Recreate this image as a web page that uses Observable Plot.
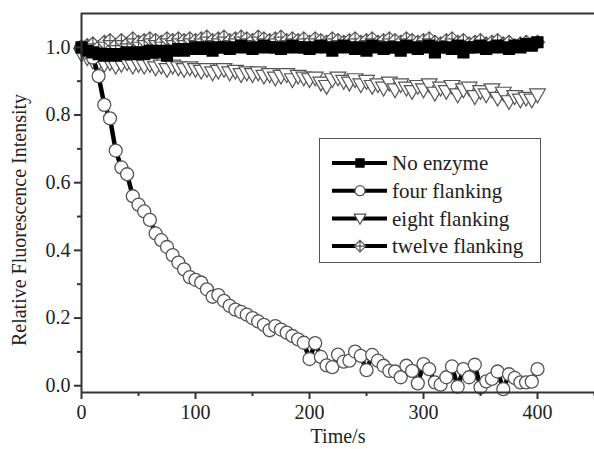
<!DOCTYPE html>
<html>
<head>
<meta charset="utf-8">
<script src="https://cdn.jsdelivr.net/npm/d3@7"></script>
<script src="https://cdn.jsdelivr.net/npm/@observablehq/plot@0.6"></script>
<style>
  html, body { margin: 0; padding: 0; background: #fff; font-family: "Liberation Serif", serif; }
  #wrap { position: relative; width: 594px; height: 449px; font-family: "Liberation Serif", serif; }
  #legend { position: absolute; left: 319px; top: 138px; width: 222px; height: 125px; border: 1px solid #555; background: #fff; box-sizing: border-box; }
</style>
</head>
<body>
<div id="wrap"><div id="legend"></div></div>
<script>
const time = [0,5,10,15,20,25,30,35,40,45,
  50,55,60,65,70,75,80,85,90,95,
  100,105,110,115,120,125,130,135,140,145,
  150,155,160,165,170,175,180,185,190,195,
  200,205,210,215,220,225,230,235,240,245,
  250,255,260,265,270,275,280,285,290,295,
  300,305,310,315,320,325,330,335,340,345,
  350,355,360,365,370,375,380,385,390,395,
  400];

const noEnzyme = [1.000,0.990,0.985,0.980,0.975,0.980,0.975,0.980,0.985,0.980,
  0.985,0.980,0.990,0.985,0.990,0.975,0.990,0.995,0.990,0.995,
  1.000,0.995,1.000,0.990,1.000,1.000,0.995,1.000,1.005,1.000,
  0.995,1.000,1.005,1.000,1.000,0.995,1.000,1.005,1.000,1.000,
  0.995,1.000,1.005,1.000,0.990,1.000,1.005,1.000,0.995,1.000,
  0.990,1.005,1.000,0.995,1.000,1.000,0.990,1.005,1.000,0.995,
  1.000,1.005,0.985,1.000,1.000,0.995,1.005,0.985,1.000,1.000,
  1.005,0.995,1.000,1.005,1.000,0.995,1.005,1.000,1.010,1.005,
  1.015];

const fourFlanking = [1.000,0.985,0.970,0.915,0.830,0.790,0.695,0.645,0.625,0.560,
  0.535,0.515,0.490,0.450,0.430,0.410,0.386,0.364,0.344,0.321,
  0.313,0.305,0.285,0.263,0.268,0.251,0.236,0.225,0.218,0.210,
  0.200,0.190,0.180,0.164,0.176,0.166,0.157,0.147,0.137,0.127,
  0.079,0.126,0.085,0.060,0.055,0.092,0.071,0.074,0.101,0.088,
  0.046,0.091,0.074,0.059,0.044,0.042,0.025,0.059,0.044,0.007,
  0.064,0.049,0.010,0.003,0.025,0.057,-0.003,0.049,0.025,0.062,
  -0.005,0.013,0.020,0.042,-0.010,0.034,0.023,0.010,0.010,0.012,
  0.049];

const eightFlanking = [0.980,0.970,0.960,0.955,0.950,0.955,0.945,0.950,0.955,0.945,
  0.950,0.945,0.950,0.940,0.945,0.935,0.945,0.940,0.935,0.940,
  0.935,0.930,0.935,0.925,0.930,0.935,0.925,0.930,0.920,0.925,
  0.920,0.925,0.915,0.920,0.910,0.915,0.920,0.905,0.915,0.910,
  0.905,0.910,0.895,0.885,0.905,0.910,0.900,0.895,0.905,0.890,
  0.900,0.885,0.890,0.880,0.895,0.875,0.890,0.880,0.870,0.885,
  0.875,0.890,0.865,0.880,0.870,0.885,0.860,0.875,0.880,0.855,
  0.870,0.860,0.875,0.850,0.865,0.840,0.855,0.845,0.850,0.845,
  0.860];

const twelveFlanking = [1.000,1.005,1.010,1.000,1.015,1.020,1.005,1.020,1.010,1.025,
  1.015,1.020,1.025,1.020,1.015,1.025,1.020,1.025,1.020,1.025,
  1.020,1.025,1.030,1.020,1.025,1.030,1.020,1.025,1.030,1.025,
  1.020,1.030,1.025,1.020,1.025,1.030,1.020,1.025,1.020,1.025,
  1.015,1.025,1.020,1.015,1.025,1.020,1.015,1.020,1.025,1.015,
  1.020,1.025,1.015,1.020,1.025,1.020,1.015,1.025,1.020,1.015,
  1.020,1.025,1.015,1.010,1.020,1.025,1.015,1.020,1.010,1.015,
  1.020,1.010,1.015,1.020,1.010,1.015,1.005,1.010,1.015,1.010,
  1.015];

const seriesNames = ["No enzyme", "four flanking", "eight flanking", "twelve flanking"];
const xTicks = [0, 100, 200, 300, 400];
const xMinor = [50, 150, 250, 350, 450];
const yTicks = [0.0, 0.2, 0.4, 0.6, 0.8, 1.0];
const yMinor = [0.1, 0.3, 0.5, 0.7, 0.9];

const rows = (vals) => time.map((t, i) => ({t, v: vals[i]}));
const dNo = rows(noEnzyme), dFour = rows(fourFlanking), dEight = rows(eightFlanking), dTwelve = rows(twelveFlanking);

const serifFam = "Liberation Serif";
const fs = 20;

const triDown = {draw(ctx, size) {
  const r = Math.sqrt(size / Math.PI);
  const h = r * 1.05;
  ctx.moveTo(-r * 1.08, -h * 0.75);
  ctx.lineTo(r * 1.08, -h * 0.75);
  ctx.lineTo(0, h * 1.05);
  ctx.closePath();
}};
const diamondCross = {draw(ctx, size) {
  const r = Math.sqrt(size / Math.PI);
  ctx.moveTo(0, -r); ctx.lineTo(r, 0); ctx.lineTo(0, r); ctx.lineTo(-r, 0); ctx.closePath();
  ctx.moveTo(0, -r); ctx.lineTo(0, r);
  ctx.moveTo(-r, 0); ctx.lineTo(r, 0);
}};

const mStroke = "#555";
const lineW = 4.5;

const plot = Plot.plot({
  width: 594,
  height: 449,
  marginLeft: 81,
  marginRight: 0,
  marginTop: 13,
  marginBottom: 57,
  style: {fontFamily: serifFam, fontSize: fs + "px", color: "#222", background: "#fff"},
  x: {domain: [0, 450]},
  y: {domain: [-0.02, 1.1]},
  marks: [
    Plot.line(dEight, {x: "t", y: "v", stroke: "#000", strokeWidth: lineW}),
    Plot.dot(dEight, {x: "t", y: "v", symbol: triDown, r: 7.3, fill: "#fff", stroke: mStroke, strokeWidth: 1.2}),
    Plot.line(dTwelve, {x: "t", y: "v", stroke: "#000", strokeWidth: lineW}),
    Plot.dot(dTwelve, {x: "t", y: "v", symbol: diamondCross, r: 7, fill: "#fff", stroke: mStroke, strokeWidth: 1.2}),
    Plot.line(dFour, {x: "t", y: "v", stroke: "#000", strokeWidth: lineW}),
    Plot.dot(dFour, {x: "t", y: "v", symbol: "circle", r: 6.5, fill: "#fff", stroke: mStroke, strokeWidth: 1.3}),
    Plot.line(dNo, {x: "t", y: "v", stroke: "#000", strokeWidth: 6.5}),
    Plot.dot(dNo, {x: "t", y: "v", symbol: "square", r: 6, fill: "#000", stroke: "#000"}),
    Plot.ruleX([0], {stroke: "#333", strokeWidth: 2}),
    Plot.ruleY([-0.02], {stroke: "#333", strokeWidth: 2}),
    Plot.ruleY([1.1], {stroke: "#333", strokeWidth: 2}),
    Plot.axisX({ticks: xTicks, tickSize: 7, tickPadding: 5, strokeWidth: 2, stroke: "#333", fontSize: fs, fontFamily: serifFam,
      label: "Time/s", labelAnchor: "center", labelOffset: 50, labelArrow: "none"}),
    Plot.axisX({ticks: xMinor, tickSize: 4, strokeWidth: 2, stroke: "#333", tickFormat: () => "", label: null}),
    Plot.axisY({ticks: yTicks, tickFormat: d3.format(".1f"), tickSize: 7, tickPadding: 4, strokeWidth: 2, stroke: "#333", fontSize: fs, fontFamily: serifFam,
      label: "Relative Fluorescence Intensity", labelAnchor: "center", labelOffset: 70, labelArrow: "none"}),
    Plot.axisY({ticks: yMinor, tickSize: 4, strokeWidth: 2, stroke: "#333", tickFormat: () => "", label: null})
  ]
});
document.getElementById("wrap").insertBefore(plot, document.getElementById("legend"));

// shift the y-axis label slightly downward, as in the reference
d3.select(plot).selectAll('[aria-label="y-axis label"] text').each(function() {
  const tr = this.getAttribute("transform") || "";
  this.setAttribute("transform", "translate(0,17) " + tr);
});

// legend
const lg = d3.select("#legend").append("svg").attr("width", 220).attr("height", 123);
const symFor = {"No enzyme": d3.symbolSquare, "four flanking": d3.symbolCircle, "eight flanking": triDown, "twelve flanking": diamondCross};
const symStyle = {
  "No enzyme": {fill: "#000", stroke: "#000", r: 4.6},
  "four flanking": {fill: "#fff", stroke: mStroke, r: 5},
  "eight flanking": {fill: "#fff", stroke: mStroke, r: 5.4},
  "twelve flanking": {fill: "#fff", stroke: mStroke, r: 5.8}
};
seriesNames.forEach((name, i) => {
  const g = lg.append("g").attr("transform", `translate(0,${24 + i * 27.7})`);
  g.append("line").attr("x1", 12).attr("x2", 67).attr("y1", 0).attr("y2", 0).attr("stroke", "#000").attr("stroke-width", 4);
  const st = symStyle[name];
  g.append("path").attr("transform", "translate(40,0)")
    .attr("d", d3.symbol(symFor[name], Math.PI * st.r * st.r)())
    .attr("fill", st.fill).attr("stroke", st.stroke).attr("stroke-width", 1.2);
  g.append("text").attr("x", 72).attr("y", 0).attr("dy", "0.35em").attr("font-size", 21).attr("fill", "#222").text(name);
});

document.querySelectorAll("#wrap svg, #wrap svg text, #wrap svg g").forEach(el => {
  el.style.setProperty("font-family", "'Liberation Serif', serif", "important");
});
</script>
</body>
</html>
